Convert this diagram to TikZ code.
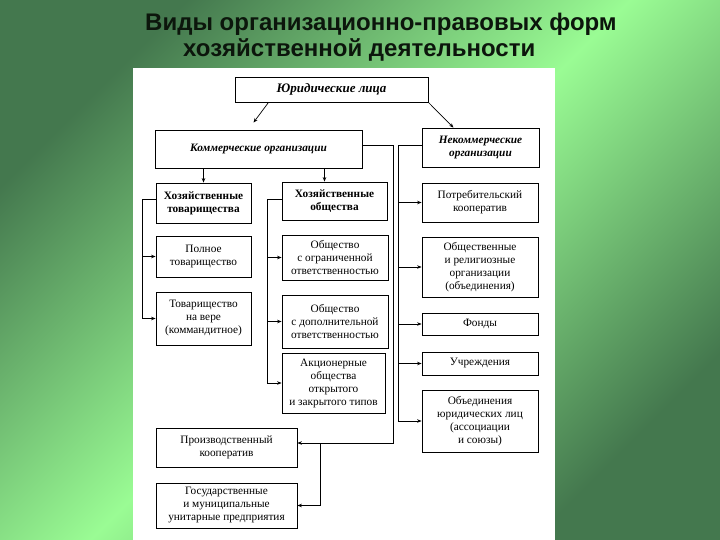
\documentclass[tikz,border=0pt]{standalone}
\usepackage{fontspec}
\setmainfont{Liberation Serif}
\newfontfamily\titlefont{Liberation Sans}
\usetikzlibrary{arrows.meta,positioning}

\definecolor{gdark}{RGB}{68,120,78}
\definecolor{glight}{RGB}{154,252,148}
\definecolor{ink}{RGB}{12,22,12}

\begin{document}
\begin{tikzpicture}[x=1pt, y=-1pt,
  font=\fontsize{11.3}{13}\selectfont,
  box/.style={draw, line width=0.8pt, align=center, inner sep=1pt},
  head/.style={box, font=\fontsize{11.3}{13}\selectfont\bfseries\itshape},
  grp/.style={box, font=\fontsize{11.3}{13}\selectfont\bfseries},
  title/.style={font=\titlefont\fontsize{24}{28}\selectfont\bfseries, text=ink, inner sep=0pt, anchor=base west},
  ln/.style={line width=0.7pt},
  arr/.style={ln, -{Stealth[length=4.5pt, width=3.5pt]}}]
\useasboundingbox (0,0) rectangle (720,540);
\shade[top color=gdark, bottom color=gdark, middle color=glight, shading angle=45] (0,0) rectangle (720,540);
\fill[white] (133,68) rectangle (555,540);

\node[title] (t1) at (145,31) {Виды организационно-правовых форм};
\node[title] (t2) at (183,57) {хозяйственной деятельности};

% top level
\node[head, minimum width=193pt, minimum height=25pt, font=\fontsize{13}{15}\selectfont\bfseries\itshape] (jur) at (331.5,89.5) {Юридические лица};
\node[head, minimum width=207pt, minimum height=38pt] (kom) at (258.5,149) {Коммерческие организации};
\node[head, minimum width=117pt, minimum height=39pt] (nekom) at (480.5,147.5) {Некоммерческие\\организации};

% commercial
\node[grp, minimum width=95pt, minimum height=40pt] (htov) at (203.5,203) {Хозяйственные\\товарищества};
\node[box, minimum width=95pt, minimum height=41pt] (poln) at (203.5,256.5) {Полное\\товарищество};
\node[box, minimum width=95pt, minimum height=53pt] (vera) at (203.5,318.5) {Товарищество\\на вере\\(коммандитное)};
\node[grp, minimum width=105pt, minimum height=38pt] (hobsh) at (334.5,201) {Хозяйственные\\общества};
\node[box, minimum width=106pt, minimum height=45pt] (ooo) at (335,257.5) {Общество\\с ограниченной\\ответственностью};
\node[box, minimum width=106pt, minimum height=53pt] (odo) at (335,321.5) {Общество\\с дополнительной\\ответственностью};
\node[box, minimum width=103pt, minimum height=60pt] (ao) at (333.5,383) {Акционерные\\общества\\открытого\\и закрытого типов};
\node[box, minimum width=141pt, minimum height=39pt] (prk) at (226.5,447.5) {Производственный\\кооператив};
\node[box, minimum width=141pt, minimum height=45pt] (gup) at (226.5,505.5) {Государственные\\и муниципальные\\унитарные предприятия};

% non-commercial
\node[box, minimum width=116pt, minimum height=39pt] (potr) at (480,202.5) {Потребительский\\кооператив};
\node[box, minimum width=116pt, minimum height=60pt] (obsh) at (480,267) {Общественные\\и религиозные\\организации\\(объединения)};
\node[box, minimum width=116pt, minimum height=22pt] (fond) at (480,324) {Фонды};
\node[box, minimum width=116pt, minimum height=23pt] (uchr) at (480,363.5) {Учреждения};
\node[box, minimum width=116pt, minimum height=62pt] (obed) at (480,421) {Объединения\\юридических лиц\\(ассоциации\\и союзы)};

\coordinate (hb) at (142,0);
\coordinate (gb) at (267,0);
\coordinate (kc) at (393,443);
\coordinate (kd) at (320,443);
\coordinate (nb) at (398,0);

\draw[arr] ([xshift=-63pt]jur.south) -- ([xshift=-5pt, yshift=7pt]kom.north);
\draw[arr] (jur.south east) -- ([xshift=-27pt]nekom.north);
\draw[arr] (kom.south -| htov.north) -- (htov.north);
\draw[arr] ([xshift=-10pt]kom.south -| hobsh.north) -- ([xshift=-10pt]hobsh.north);

\draw[arr] ([yshift=4pt]htov.west) -| (hb |- vera.west) -- (vera.west);
\draw[arr] (hb |- poln.west) -- (poln.west);

\draw[arr] ([yshift=2pt]hobsh.west) -| (gb |- ao.west) -- (ao.west);
\draw[arr] (gb |- ooo.west) -- (ooo.west);
\draw[arr] (gb |- odo.west) -- (odo.west);

\draw[arr] ([yshift=4pt]kom.east) -| (kc) -- (kc -| prk.east);
\draw[arr] (kd) |- (gup.east);

\draw[arr] ([yshift=2pt]nekom.west) -| (nb |- obed.west) -- (obed.west);
\draw[arr] (nb |- potr.west) -- (potr.west);
\draw[arr] (nb |- obsh.west) -- (obsh.west);
\draw[arr] (nb |- fond.west) -- (fond.west);
\draw[arr] (nb |- uchr.west) -- (uchr.west);
\end{tikzpicture}
\end{document}
